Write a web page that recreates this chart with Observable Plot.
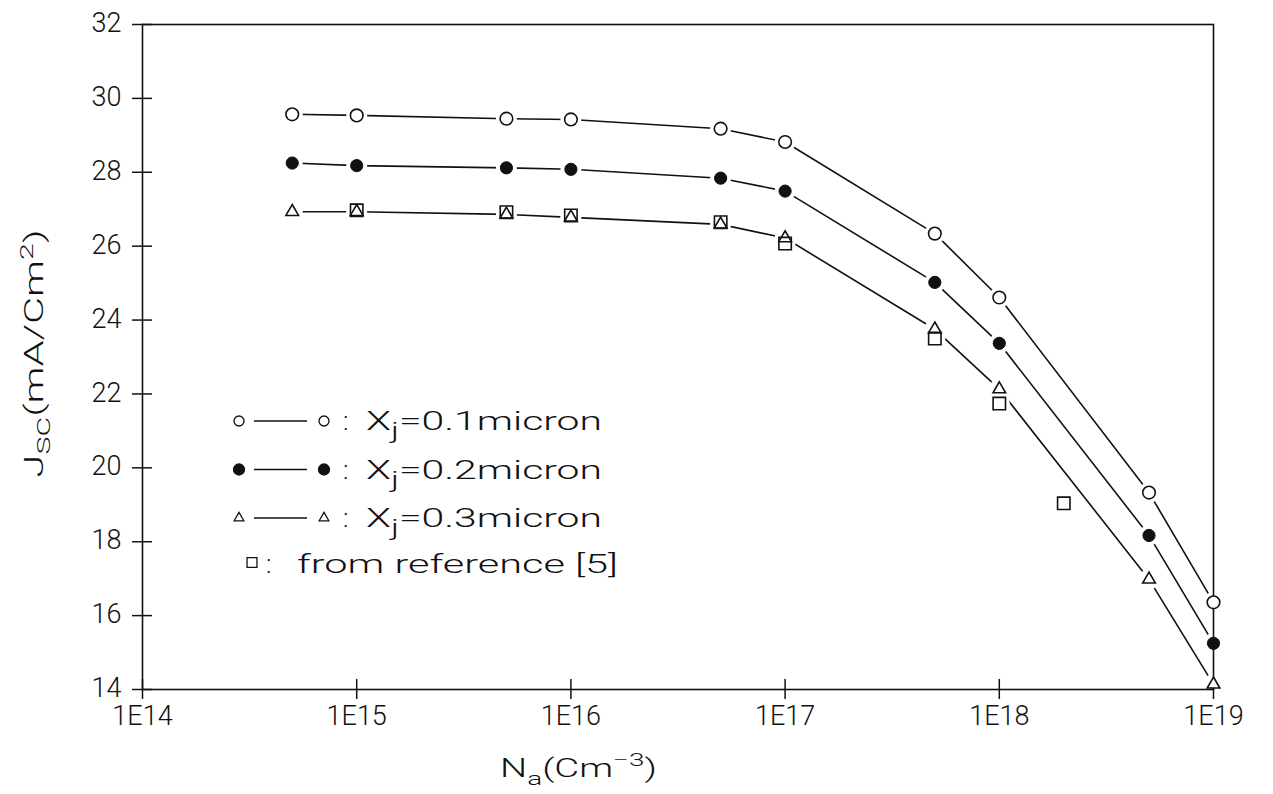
<!DOCTYPE html>
<html>
<head>
<meta charset="utf-8">
<script src="https://cdn.jsdelivr.net/npm/d3@7"></script>
<script src="https://cdn.jsdelivr.net/npm/@observablehq/plot@0.6"></script>
<style>
  html, body { margin: 0; padding: 0; background: #fff; }
  #chart { width: 1273px; height: 794px; }
</style>
</head>
<body>
<div id="chart"></div>
<script>
// ---- data ----
const na = [5e14, 1e15, 5e15, 1e16, 5e16, 1e17, 5e17, 1e18, 5e18, 1e19];
const jscXj01 = [29.57, 29.54, 29.45, 29.43, 29.18, 28.82, 26.34, 24.61, 19.33, 16.36];
const jscXj02 = [28.25, 28.18, 28.12, 28.08, 27.84, 27.49, 25.02, 23.37, 18.17, 15.25];
const jscXj03 = [26.93, 26.93, 26.86, 26.78, 26.59, 26.22, 23.75, 22.13, 16.98, 14.14];
const naRef  = [1e15, 5e15, 1e16, 5e16, 1e17, 5e17, 1e18, 2e18];
const jscRef = [26.97, 26.92, 26.83, 26.65, 26.07, 23.50, 21.74, 19.04];
const xTicks = [1e14, 1e15, 1e16, 1e17, 1e18, 1e19];
const xTickLabels = ["1E14", "1E15", "1E16", "1E17", "1E18", "1E19"];
const yTicks = [14, 16, 18, 20, 22, 24, 26, 28, 30, 32];
const xjLabels = ["0.1micron", "0.2micron", "0.3micron"];
const refLabel = "from reference [5]";

const INK = "#111";
const FONT = "Roboto, 'DejaVu Sans', sans-serif";
const WEIGHT = 300;

const toRows = (xs, ys, key) => xs.map((x, i) => ({x, y: ys[i], key}));
const s01 = toRows(na, jscXj01, "0.1");
const s02 = toRows(na, jscXj02, "0.2");
const s03 = toRows(na, jscXj03, "0.3");
const ref = toRows(naRef, jscRef, "ref");
const curves = [...s01, ...s02, ...s03];
const xTickRows = xTicks.map((v, i) => ({v, label: xTickLabels[i]}));

// legend drawn as a custom render mark (layout only, no data coordinates)
const legendStyles = [
  {type: d3.symbolCircle, r: 5, fill: "white"},
  {type: d3.symbolCircle, r: 5.5, fill: INK},
  {type: d3.symbolTriangle, r: 3.6, fill: "white"}
];
function legendMark(index, scales, values, dims) {
  const L = dims.marginLeft, T = dims.marginTop;
  const g = d3.create("svg:g").attr("font-family", FONT).attr("font-weight", WEIGHT)
    .attr("fill", INK).attr("text-anchor", "start");
  const path = (type, r) => d3.symbol(type, Math.PI * r * r)();
  legendStyles.forEach((s, k) => {
    const base = T + 406 + k * 48.5;
    const cy = base - 9;
    [L + 97, L + 182].forEach(cx =>
      g.append("path").attr("d", path(s.type, s.r)).attr("transform", `translate(${cx},${cy})`)
        .attr("fill", s.fill).attr("stroke", INK).attr("stroke-width", 1.3));
    g.append("line").attr("x1", L + 112).attr("x2", L + 165).attr("y1", cy).attr("y2", cy)
      .attr("stroke", INK).attr("stroke-width", 1.5);
    g.append("text").attr("x", L + 201).attr("y", base).attr("font-size", 26).text(":");
    const t = g.append("text").attr("x", L + 224).attr("y", base).attr("font-size", 26)
      .attr("textLength", 236).attr("lengthAdjust", "spacingAndGlyphs");
    t.append("tspan").text("X");
    t.append("tspan").attr("font-size", 22).attr("dy", 8).text("j");
    t.append("tspan").attr("dy", -8).text("=" + xjLabels[k]);
  });
  const base4 = T + 406 + 3 * 48.5 - 3;
  g.append("path").attr("d", path(d3.symbolSquare, 5.6)).attr("transform", `translate(${L + 110},${base4 - 10})`)
    .attr("fill", "none").attr("stroke", INK).attr("stroke-width", 1.3);
  g.append("text").attr("x", L + 124).attr("y", base4).attr("font-size", 26).text(":");
  g.append("text").attr("x", L + 155).attr("y", base4).attr("font-size", 26)
    .attr("textLength", 321).attr("lengthAdjust", "spacingAndGlyphs").text(refLabel);
  return g.node();
}

function axisTitles(index, scales, values, dims) {
  const g = d3.create("svg:g").attr("font-family", FONT).attr("font-weight", WEIGHT).attr("fill", INK);
  const cy = (dims.marginTop + dims.height - dims.marginBottom) / 2 - 3;
  const ty = g.append("text").attr("transform", `translate(${dims.marginLeft - 99},${cy}) rotate(-90)`)
    .attr("text-anchor", "middle").attr("font-size", 26)
    .attr("textLength", 248).attr("lengthAdjust", "spacingAndGlyphs");
  ty.append("tspan").text("J");
  ty.append("tspan").attr("font-size", 19).attr("dy", 7).text("SC");
  ty.append("tspan").attr("dy", -7).text("(mA/Cm");
  ty.append("tspan").attr("font-size", 19).attr("dy", -10).text("2");
  ty.append("tspan").attr("dy", 10).text(")");

  const tx = g.append("text").attr("x", dims.marginLeft + 358).attr("y", dims.height - dims.marginBottom + 88)
    .attr("text-anchor", "start")
    .attr("font-size", 26).attr("textLength", 157).attr("lengthAdjust", "spacingAndGlyphs");
  tx.append("tspan").text("N");
  tx.append("tspan").attr("font-size", 19).attr("dy", 8).text("a");
  tx.append("tspan").attr("dy", -8).text("(Cm");
  tx.append("tspan").attr("font-size", 19).attr("dy", -11).text("\u22123");
  tx.append("tspan").attr("dy", 11).text(")");
  return g.node();
}

const chart = Plot.plot({
  width: 1273,
  height: 794,
  marginLeft: 142,
  marginRight: 60,
  marginTop: 24,
  marginBottom: 105,
  style: {fontFamily: FONT, background: "white", color: INK},
  x: {type: "log", domain: [1e14, 1e19], axis: null},
  y: {domain: [14, 32], axis: null},
  marks: [
    Plot.line(curves, {x: "x", y: "y", z: "key", stroke: INK, strokeWidth: 1.6}),
    // white halos: lines stop short of each marker
    Plot.dot([...curves, ...ref], {x: "x", y: "y", r: 10.5, fill: "white"}),
    Plot.frame({stroke: INK, strokeWidth: 1.6}),
    Plot.ruleX(xTicks, {x: d => d, y1: 14, y2: 14, insetTop: 10, insetBottom: 10, stroke: INK, strokeWidth: 1.5}),
    Plot.ruleY(yTicks, {y: d => d, x1: 1e14, x2: 1e14, insetLeft: 10, insetRight: 10, stroke: INK, strokeWidth: 1.5}),
    Plot.text(xTickRows, {x: "v", text: "label", frameAnchor: "bottom", dy: 35, textAnchor: "middle",
      fontSize: 27, fontWeight: WEIGHT, fill: INK, ariaLabel: "x tick label"}),
    Plot.text(yTicks, {y: d => d, text: d => String(d), frameAnchor: "left", dx: -21, dy: -1, textAnchor: "end",
      fontSize: 27, fontWeight: WEIGHT, fill: INK, ariaLabel: "y tick label"}),
    Plot.dot(s01, {x: "x", y: "y", r: 6.3, fill: "white", stroke: INK, strokeWidth: 1.6}),
    Plot.dot(s02, {x: "x", y: "y", r: 6.1, fill: INK, stroke: INK, strokeWidth: 1}),
    Plot.dot(s03, {x: "x", y: "y", symbol: "triangle", r: 4.7, fill: "white", stroke: INK, strokeWidth: 1.6}),
    Plot.dot(ref, {x: "x", y: "y", symbol: "square", r: 7, fill: "none", stroke: INK, strokeWidth: 1.6}),
    legendMark,
    axisTitles
  ]
});

d3.select(chart).selectAll('g[aria-label="x tick label"] text')
  .attr("textLength", 80).attr("lengthAdjust", "spacingAndGlyphs");
d3.select(chart).selectAll('g[aria-label="y tick label"] text')
  .attr("textLength", 40).attr("lengthAdjust", "spacingAndGlyphs");

document.getElementById("chart").append(chart);
</script>
</body>
</html>
